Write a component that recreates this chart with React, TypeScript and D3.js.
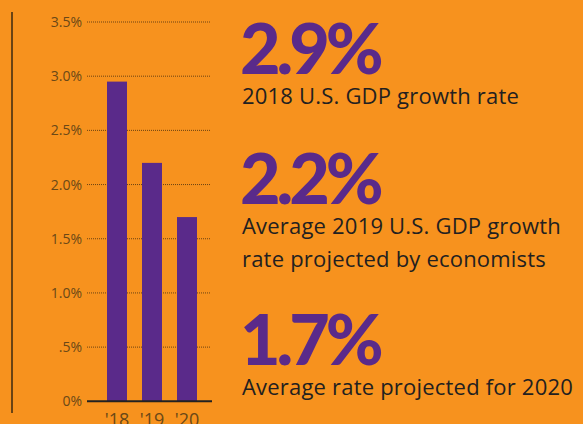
import React from "react"
import * as d3 from "d3"

const years = ["'18", "'19", "'20"]
const growth = [2.95, 2.2, 1.7]
const tickValues = [0, 0.5, 1, 1.5, 2, 2.5, 3, 3.5]
const tickLabels = ["0%", ".5%", "1.0%", "1.5%", "2.0%", "2.5%", "3.0%", "3.5%"]
const bigNumbers = ["2.9%", "2.2%", "1.7%"]
const captions = [
  ["2018 U.S. GDP growth rate"],
  ["Average 2019 U.S. GDP growth", "rate projected by economists"],
  ["Average rate projected for 2020"],
]

const W = 583
const H = 424
const bg = "#F7921E"
const purple = "#5A2A8A"
const brown = "#6A4817"
const textFont = "'Open Sans', Lato, sans-serif"

const App = () => {
  const y = d3.scaleLinear().domain([0, 3.5]).range([401.3, 22])
  const x = d3
    .scaleBand()
    .domain(years)
    .range([97, 207])
    .paddingInner(15 / 35)
    .paddingOuter(10 / 35)

  // baseline of each big number; captions hang below
  const blockTops = [74, 204, 365]

  return (
    <svg
      width={W}
      height={H}
      style={{ display: "block", position: "absolute", left: 0, top: 0 }}
    >
      <rect width={W} height={H} fill={bg} />
      <line x1={12} x2={12} y1={12} y2={413} stroke="#3B2810" strokeWidth={1.5} />

      {/* grid + ticks */}
      {tickValues.map((t, i) => (
        <g key={t}>
          {t > 0 && (
            <line
              x1={87}
              x2={210}
              y1={y(t)}
              y2={y(t)}
              stroke="#4A3010"
              strokeWidth={1}
              strokeDasharray="1,1"
              opacity={0.8}
            />
          )}
          <text
            x={82}
            y={y(t) + 5}
            textAnchor="end"
            fontFamily={textFont}
            fontSize={14}
            fill={brown}
          >
            {tickLabels[i]}
          </text>
        </g>
      ))}

      {/* bars */}
      {growth.map((v, i) => (
        <rect
          key={years[i]}
          x={x(years[i])}
          y={y(v)}
          width={x.bandwidth()}
          height={y(0) - y(v)}
          fill={purple}
        />
      ))}

      <line x1={87} x2={212} y1={y(0)} y2={y(0)} stroke="#222" strokeWidth={2} />

      {years.map((yr) => (
        <text
          key={yr}
          x={x(yr)! + x.bandwidth() / 2}
          y={426}
          textAnchor="middle"
          fontFamily={textFont}
          fontSize={18}
          fill={brown}
        >
          {yr}
        </text>
      ))}

      {/* right-hand callouts */}
      {bigNumbers.map((n, i) => (
        <g key={n}>
          <text
            x={240}
            y={blockTops[i]}
            fontFamily="Lato, Roboto, sans-serif"
            fontWeight={900}
            fontSize={70}
            letterSpacing={-4}
            fill={purple}
          >
            {n}
          </text>
          {captions[i].map((c, j) => (
            <text
              key={c}
              x={242}
              y={blockTops[i] + 30 + j * 33}
              fontFamily={textFont}
              fontSize={22}
              letterSpacing={0.2}
              fill="#231F20"
            >
              {c}
            </text>
          ))}
        </g>
      ))}
    </svg>
  )
}

export default App
